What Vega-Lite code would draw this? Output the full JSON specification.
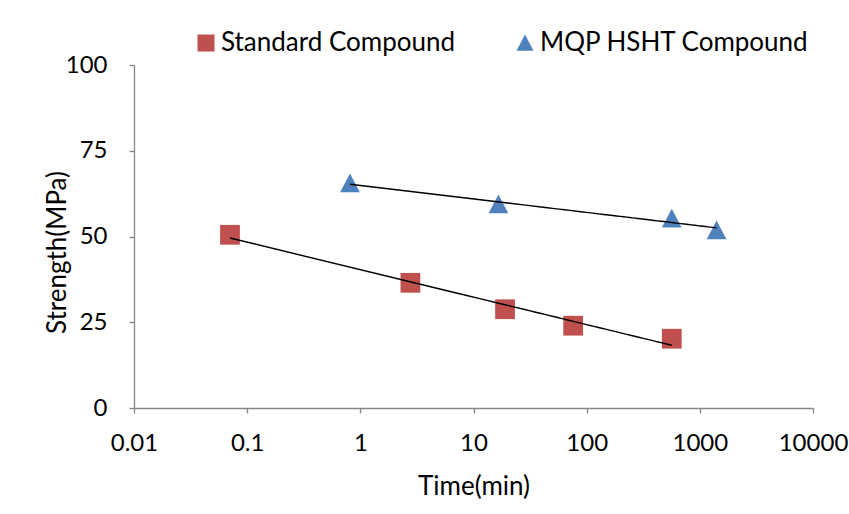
{
  "$schema": "https://vega.github.io/schema/vega-lite/v6.json",
  "autosize": {"type": "none"},
  "width": 679,
  "height": 343,
  "padding": {"left": 134, "top": 65, "right": 36, "bottom": 106},
  "background": "white",
  "config": {
    "view": {"stroke": null},
    "font": "Lato",
    "axis": {
      "grid": false,
      "domainColor": "#868686",
      "domainWidth": 1.3,
      "tickColor": "#868686",
      "tickWidth": 1.3,
      "tickSize": 5,
      "labelFont": "Lato",
      "labelFontSize": 24,
      "labelColor": "#000000",
      "titleFont": "Lato",
      "titleFontSize": 26,
      "titleFontWeight": "normal",
      "titleColor": "#000000"
    }
  },
  "data": {
    "values": [
      {"series": "Standard Compound", "time": 0.0705, "strength": 50.5},
      {"series": "Standard Compound", "time": 2.77, "strength": 36.5},
      {"series": "Standard Compound", "time": 19, "strength": 28.8},
      {"series": "Standard Compound", "time": 76, "strength": 24.0},
      {"series": "Standard Compound", "time": 565, "strength": 20.2},
      {"series": "MQP HSHT Compound", "time": 0.81, "strength": 65.5},
      {"series": "MQP HSHT Compound", "time": 16.6, "strength": 59.4},
      {"series": "MQP HSHT Compound", "time": 565, "strength": 55.2},
      {"series": "MQP HSHT Compound", "time": 1406, "strength": 51.8}
    ]
  },
  "layer": [
    {
      "mark": {"type": "point", "filled": true, "size": 390, "opacity": 1},
      "encoding": {
        "x": {
          "field": "time", "type": "quantitative",
          "scale": {"type": "log", "domain": [0.01, 10000], "nice": false},
          "axis": {
            "title": "Time(min)",
            "values": [0.01, 0.1, 1, 10, 100, 1000, 10000],
            "format": "~g",
            "labelPadding": 18,
            "titlePadding": 18,
            "labelFlush": false,
            "labelOverlap": false
          }
        },
        "y": {
          "field": "strength", "type": "quantitative",
          "scale": {"domain": [0, 100], "nice": false, "zero": true},
          "axis": {
            "title": "Strength(MPa)",
            "values": [0, 25, 50, 75, 100],
            "labelPadding": 22,
            "titleX": -64,
            "titleY": 187,
            "titleBaseline": "bottom"
          }
        },
        "color": {
          "field": "series", "type": "nominal",
          "scale": {"domain": ["Standard Compound", "MQP HSHT Compound"], "range": ["#C0504D", "#4F81BD"]},
          "legend": {
            "title": null,
            "orient": "none",
            "direction": "horizontal",
            "legendX": 59,
            "legendY": -35,
            "labelFont": "Lato",
            "labelFontSize": 26,
            "labelColor": "#000000",
            "labelOffset": 2,
            "columnPadding": 56,
            "symbolSize": 290,
            "symbolOpacity": 1,
            "labelLimit": 400
          }
        },
        "shape": {
          "field": "series", "type": "nominal",
          "scale": {"domain": ["Standard Compound", "MQP HSHT Compound"], "range": ["square", "M0,-1L1,0.9L-1,0.9Z"]}
        }
      }
    },
    {
      "transform": [
        {"regression": "strength", "on": "time", "method": "log", "groupby": ["series"]}
      ],
      "mark": {"type": "line", "color": "#000000", "strokeWidth": 1.4},
      "encoding": {
        "x": {"field": "time", "type": "quantitative"},
        "y": {"field": "strength", "type": "quantitative"},
        "detail": {"field": "series", "type": "nominal"}
      }
    }
  ]
}
